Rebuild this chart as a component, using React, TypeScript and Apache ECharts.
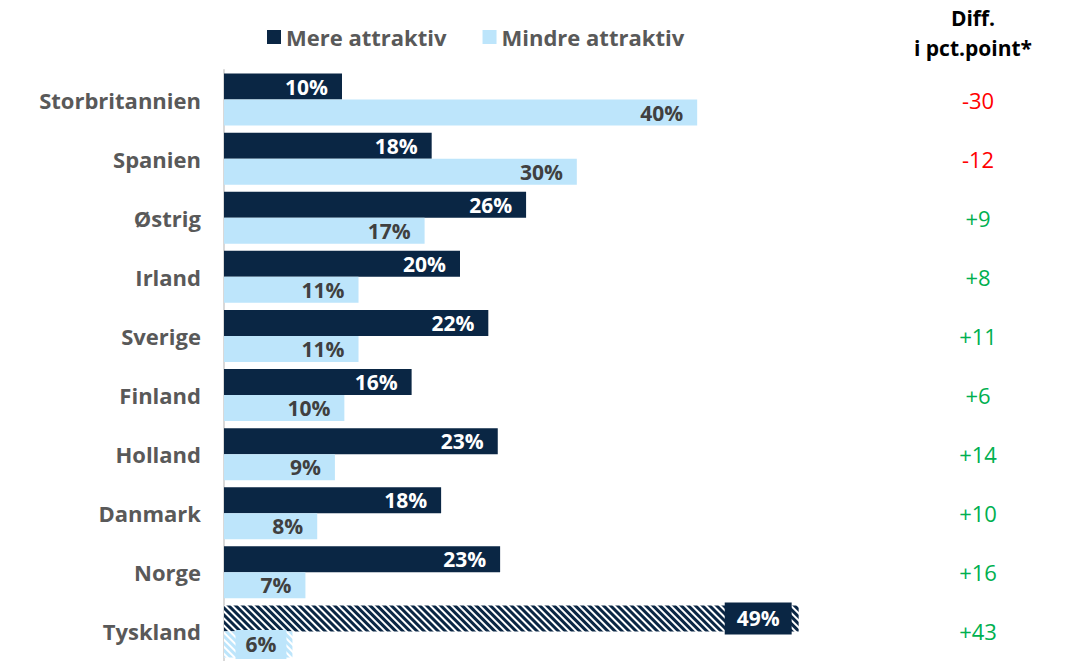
import React, { useEffect, useRef } from "react";
import * as echarts from "echarts";

const categories = ["Storbritannien", "Spanien", "Østrig", "Irland", "Sverige", "Finland", "Holland", "Danmark", "Norge", "Tyskland"];
const mere = [10.0, 17.6, 25.6, 20.0, 22.4, 15.9, 23.2, 18.4, 23.4, 48.7];
const mindre = [40.1, 29.9, 17.0, 11.4, 11.4, 10.2, 9.4, 7.9, 6.9, 5.8];
const diffLabels = ["-30", "-12", "+9", "+8", "+11", "+6", "+14", "+10", "+16", "+43"];
const hatchedCategory = "Tyskland";

const DARK = "#0a2644";
const LIGHT = "#bde5fb";
const FONT = "'Open Sans', sans-serif";

export default function App() {
  const ref = useRef<HTMLDivElement>(null);
  useEffect(() => {
    const chart = echarts.init(ref.current!, null, { renderer: "svg" });
    const decal = (color: string) => ({
      symbol: "rect",
      symbolSize: 1,
      dashArrayX: [1, 0],
      dashArrayY: [3, 2],
      rotation: Math.PI / 4,
      color,
    });
    const mkData = (vals: number[], color: string, labelBg: string, pad: number[], dist: number) =>
      vals.map((v, i) =>
        categories[i] === hatchedCategory
          ? {
              value: v,
              itemStyle: { color: "#ffffff", decal: decal(color) },
              label: { backgroundColor: labelBg, padding: pad, distance: dist },
            }
          : v
      );
    const pct = (p: any) => `${Math.round(p.value)}%`;
    chart.setOption({
      animation: false,
      textStyle: { fontFamily: FONT },
      legend: {
        top: 21,
        left: 262,
        itemWidth: 14,
        itemHeight: 14,
        itemGap: 36,
        icon: "rect",
        textStyle: { fontSize: 22, fontWeight: "bold", color: "#595959", fontFamily: FONT },
        data: ["Mere attraktiv", "Mindre attraktiv"],
      },
      graphic: [
        {
          type: "text",
          x: 973,
          y: 3,
          style: {
            text: "Diff.\ni pct.point*",
            fontSize: 21,
            fontWeight: "bold",
            fill: "#000",
            align: "center",
            lineHeight: 30,
            fontFamily: FONT,
          },
        },
      ],
      grid: { left: 224, right: 141, top: 70, bottom: 0, containLabel: false },
      xAxis: { type: "value", min: 0, max: 60, show: false },
      yAxis: [
        {
          type: "category",
          data: categories,
          inverse: true,
          axisLine: { show: true, lineStyle: { color: "#d9d9d9", width: 2 } },
          axisTick: { show: false },
          axisLabel: { fontSize: 22, fontWeight: "bold", color: "#595959", margin: 23, fontFamily: FONT },
        },
        {
          type: "category",
          data: diffLabels,
          inverse: true,
          position: "right",
          axisLine: { show: false },
          axisTick: { show: false },
          axisLabel: {
            align: "center",
            margin: 46,
            fontSize: 22,
            fontFamily: FONT,
            formatter: (v: string) => (v.startsWith("-") ? `{neg|${v}}` : `{pos|${v}}`),
            rich: {
              neg: { color: "#ff0000", fontSize: 22, fontFamily: FONT },
              pos: { color: "#00b050", fontSize: 22, fontFamily: FONT },
            },
          },
        },
      ],
      series: [
        {
          name: "Mere attraktiv",
          type: "bar",
          barWidth: 26,
          barGap: "0%",
          itemStyle: { color: DARK },
          label: {
            show: true,
            position: "insideRight",
            distance: 14,
            formatter: pct,
            color: "#ffffff",
            fontSize: 21,
            fontWeight: "bold",
            fontFamily: FONT,
          },
          data: mkData(mere, DARK, DARK, [6, 12, 5, 12], 7),
        },
        {
          name: "Mindre attraktiv",
          type: "bar",
          barWidth: 26,
          barGap: "0%",
          itemStyle: { color: LIGHT },
          label: {
            show: true,
            position: "insideRight",
            distance: 14,
            formatter: pct,
            color: "#404040",
            fontSize: 21,
            fontWeight: "bold",
            fontFamily: FONT,
          },
          data: mkData(mindre, LIGHT, LIGHT, [4, 10, 4, 10], 6),
        },
      ],
    });
    return () => chart.dispose();
  }, []);
  return <div ref={ref} style={{ width: 1073, height: 661, position: "absolute", left: 0, top: 0 }} />;
}
